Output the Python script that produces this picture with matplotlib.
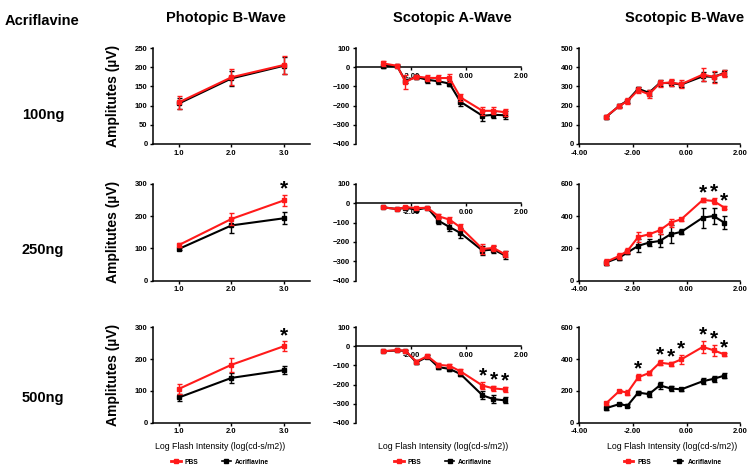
import matplotlib
matplotlib.use("Agg")
import matplotlib.pyplot as plt
from matplotlib.lines import Line2D
import numpy as np

plt.rcParams['font.family'] = ['Liberation Sans', 'DejaVu Sans']
plt.rcParams['font.weight'] = 'bold'

# ---- data ----
doses = ["100ng", "250ng", "500ng"]
titles = ["Photopic B-Wave", "Scotopic A-Wave", "Scotopic B-Wave"]

photo_x = [1.0, 2.0, 3.0]
scot_x = [-3.0, -2.5, -2.2, -1.8, -1.4, -1.0, -0.6, -0.2, 0.6, 1.0, 1.4]

# photopic b-wave (PBS, Acriflavine) per dose
pb_pbs = [[109, 174, 206], [111, 191, 248], [107, 182, 240]]
pb_pbs_err = [[17, 21, 24], [7, 18, 18], [15, 22, 16]]
pb_acr = [[106, 171, 204], [99, 171, 193], [80, 141, 165]]
pb_acr_err = [[15, 20, 22], [5, 24, 19], [10, 15, 13]]

# scotopic a-wave
sa_pbs = [[20, 8, -77, -48, -55, -56, -56, -157, -227, -227, -234],
          [-22, -31, -21, -26, -24, -68, -85, -125, -236, -231, -262],
          [-26, -20, -24, -80, -51, -97, -102, -131, -205, -220, -225]]
sa_pbs_err = [[15, 8, 35, 10, 15, 15, 20, 20, 22, 18, 18],
              [3, 3, 5, 5, 5, 12, 15, 15, 25, 15, 15],
              [5, 5, 5, 8, 8, 10, 10, 12, 20, 15, 15]]
sa_acr = [[8, 5, -70, -51, -65, -73, -85, -180, -253, -248, -250],
          [-22, -31, -24, -34, -24, -91, -123, -154, -244, -239, -268],
          [-26, -22, -24, -84, -55, -109, -118, -145, -256, -276, -282]]
sa_acr_err = [[10, 5, 10, 10, 15, 15, 15, 20, 25, 15, 20],
              [3, 3, 5, 5, 5, 15, 20, 25, 25, 20, 20],
              [5, 5, 5, 8, 8, 12, 10, 12, 20, 20, 15]]

# scotopic b-wave
sb_pbs = [[143, 198, 224, 281, 259, 316, 321, 312, 362, 350, 367],
          [117, 154, 185, 271, 287, 312, 359, 380, 499, 493, 452],
          [122, 200, 190, 286, 312, 377, 369, 398, 476, 455, 429]]
sb_pbs_err = [[10, 10, 15, 15, 20, 20, 18, 20, 35, 30, 20],
              [20, 20, 15, 30, 10, 20, 25, 10, 10, 20, 10],
              [12, 8, 15, 20, 15, 15, 10, 30, 40, 35, 8]]
sb_acr = [[140, 200, 226, 288, 267, 318, 318, 310, 353, 350, 370],
          [113, 144, 175, 216, 236, 246, 287, 302, 390, 400, 359],
          [92, 118, 108, 190, 180, 235, 216, 210, 261, 276, 296]]
sb_acr_err = [[8, 8, 10, 10, 15, 15, 15, 15, 25, 25, 15],
              [15, 15, 10, 40, 20, 40, 55, 15, 62, 50, 40],
              [12, 8, 8, 10, 20, 20, 15, 8, 20, 20, 15]]

# significance stars (indices), [dose][column]
stars = [[[], [], []],
         [[2], [], [8, 9, 10]],
         [[2], [8, 9, 10], [3, 5, 6, 7, 8, 9, 10]]]

RED = "#ff1a1a"

fig = plt.figure(figsize=(7.54, 4.72), dpi=100)

col_left = [0.203, 0.472, 0.768]
col_w = [0.208, 0.219, 0.214]
row_bot = [0.695, 0.405, 0.104]
row_h = [0.203, 0.206, 0.203]


def draw(ax, x, yp, ep, ya, ea, star_idx):
    ax.errorbar(x, ya, yerr=ea, color="black", lw=1.5, marker="s", ms=2.5,
                capsize=1.8, elinewidth=1.0, capthick=1.0, zorder=3)
    ax.errorbar(x, yp, yerr=ep, color=RED, lw=1.5, marker="s", ms=2.5,
                capsize=1.8, elinewidth=1.0, capthick=1.0, zorder=4)
    for i in star_idx:
        top = max(yp[i] + ep[i], ya[i] + ea[i])
        ax.annotate("*", (x[i], top), xytext=(0, -3), textcoords="offset points",
                    ha="center", va="bottom", fontsize=15, fontweight="bold")


for r in range(3):
    for c in range(3):
        ax = fig.add_axes([col_left[c], row_bot[r], col_w[c], row_h[r]])
        ax.spines['top'].set_visible(False)
        ax.spines['right'].set_visible(False)
        for s in ['left', 'bottom']:
            ax.spines[s].set_linewidth(1.1)
        ax.tick_params(labelsize=5.5, width=1, length=2.5, pad=1.5)

        if c == 0:
            draw(ax, photo_x, pb_pbs[r], pb_pbs_err[r], pb_acr[r], pb_acr_err[r], stars[r][c])
            ax.set_xlim(0.5, 3.5)
            ax.set_xticks(photo_x)
            ax.set_xticklabels(["1.0", "2.0", "3.0"])
            if r == 0:
                ax.set_ylim(0, 250)
                ax.set_yticks(range(0, 251, 50))
            else:
                ax.set_ylim(0, 300)
                ax.set_yticks(range(0, 301, 100))
        elif c == 1:
            draw(ax, scot_x, sa_pbs[r], sa_pbs_err[r], sa_acr[r], sa_acr_err[r], stars[r][c])
            ax.set_xlim(-4, 2)
            ax.set_ylim(-400, 100)
            ax.set_yticks(range(-400, 101, 100))
            ax.spines['bottom'].set_position(('data', 0))
            ax.set_xticks([-2, 0, 2])
            ax.set_xticklabels(["-2.00", "0.00", "2.00"])
        else:
            draw(ax, scot_x, sb_pbs[r], sb_pbs_err[r], sb_acr[r], sb_acr_err[r], stars[r][c])
            ax.set_xlim(-4, 2)
            ax.set_xticks([-4, -2, 0, 2])
            ax.set_xticklabels(["-4.00", "-2.00", "0.00", "2.00"])
            if r == 0:
                ax.set_ylim(0, 500)
                ax.set_yticks(range(0, 501, 100))
            else:
                ax.set_ylim(0, 600)
                ax.set_yticks(range(0, 601, 200))
        for lab in ax.get_xticklabels() + ax.get_yticklabels():
            lab.set_fontweight('bold')
        ax.set_axisbelow(True)

# headings
fig.text(0.056, 0.955, "Acriflavine", ha="center", va="center", fontsize=10.5, fontweight="bold")
for cx, t in zip([0.300, 0.600, 0.908], titles):
    fig.text(cx, 0.962, t, ha="center", va="center", fontsize=10.5, fontweight="bold")
for cy, d in zip([0.756, 0.470, 0.157], doses):
    fig.text(0.057, cy, d, ha="center", va="center", fontsize=10.5, fontweight="bold")
for r in range(3):
    fig.text(0.150, row_bot[r] + row_h[r] / 2, "Amplitutes (µV)", rotation=90,
             ha="center", va="center", fontsize=10, fontweight="bold")

handles = [Line2D([0], [0], color=RED, lw=2, marker="s", ms=3.5),
           Line2D([0], [0], color="black", lw=1.2, marker="s", ms=3)]
for cx in [0.292, 0.588, 0.892]:
    fig.text(cx, 0.053, "Log Flash Intensity (log(cd-s/m2))", ha="center", va="center",
             fontsize=6.3, fontweight="normal")
    fig.legend(handles, ["PBS", "Acriflavine"], loc="center", bbox_to_anchor=(cx, 0.021),
               ncol=2, frameon=False, handlelength=1.4, handletextpad=0.6,
               columnspacing=3.5, borderpad=0, prop={'weight': 'bold', 'size': 4.8})

fig.savefig("out.png", dpi=100)
